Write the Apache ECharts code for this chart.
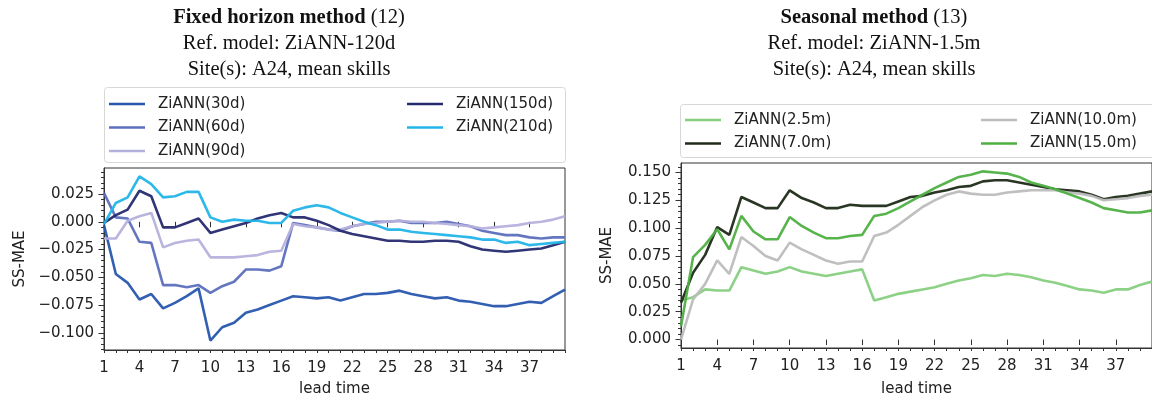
<!DOCTYPE html>
<html>
<head>
<meta charset="utf-8">
<script src="https://cdn.jsdelivr.net/npm/echarts@6/dist/echarts.min.js"></script>
<style>
  html, body { margin: 0; padding: 0; background: #fff; }
  #chart { width: 1152px; height: 401px; }
</style>
</head>
<body>
<div id="chart"></div>
<script>
// Lead times (x categories) shared by both panels
const leadTimes = ['1','2','3','4','5','6','7','8','9','10','11','12','13','14','15','16','17','18','19','20',
                   '21','22','23','24','25','26','27','28','29','30','31','32','33','34','35','36','37','38','39','40'];

// Labelled y ticks of each panel
const fixedYTicks = [-0.100, -0.075, -0.050, -0.025, 0.000, 0.025];
const seasonalYTicks = [0.000, 0.025, 0.050, 0.075, 0.100, 0.125, 0.150];

// Fixed horizon method: skill score (SS-MAE) per lead time
const fixedNames = ['ZiANN(30d)', 'ZiANN(60d)', 'ZiANN(90d)', 'ZiANN(150d)', 'ZiANN(210d)'];
const ss30d  = [-0.003,-0.047,-0.055,-0.070,-0.065,-0.078,-0.073,-0.067,-0.060,-0.107,-0.095,-0.091,-0.082,-0.079,-0.075,-0.071,-0.067,-0.068,-0.069,-0.068,
                -0.071,-0.068,-0.065,-0.065,-0.064,-0.062,-0.065,-0.067,-0.069,-0.068,-0.071,-0.072,-0.074,-0.076,-0.076,-0.074,-0.072,-0.073,-0.067,-0.061];
const ss60d  = [0.026,0.004,0.003,-0.018,-0.019,-0.057,-0.057,-0.059,-0.057,-0.064,-0.058,-0.054,-0.043,-0.043,-0.044,-0.040,-0.001,-0.003,-0.005,-0.007,
                -0.008,-0.004,-0.002,0.000,0.000,0.001,-0.001,-0.001,-0.001,0.000,-0.002,-0.004,-0.008,-0.010,-0.012,-0.012,-0.014,-0.015,-0.014,-0.014];
const ss90d  = [-0.015,-0.015,0.001,0.005,0.008,-0.023,-0.019,-0.017,-0.016,-0.032,-0.032,-0.032,-0.031,-0.030,-0.027,-0.026,-0.002,-0.004,-0.005,-0.007,
                -0.007,-0.004,-0.002,-0.001,0.000,0.001,0.000,0.000,-0.001,-0.002,-0.003,-0.004,-0.006,-0.005,-0.004,-0.003,-0.001,0.000,0.002,0.005];
const ss150d = [-0.001,0.006,0.011,0.028,0.023,-0.005,-0.005,-0.001,0.003,-0.010,-0.007,-0.004,-0.001,0.003,0.006,0.008,0.004,0.004,0.001,-0.003,
                -0.008,-0.011,-0.013,-0.015,-0.017,-0.017,-0.018,-0.018,-0.017,-0.017,-0.018,-0.022,-0.025,-0.026,-0.027,-0.026,-0.025,-0.024,-0.021,-0.018];
const ss210d = [-0.002,0.017,0.022,0.041,0.034,0.022,0.023,0.027,0.027,0.004,0.000,0.002,0.001,0.001,-0.001,-0.001,0.010,0.013,0.015,0.013,
                0.008,0.004,0.000,-0.003,-0.007,-0.007,-0.009,-0.010,-0.011,-0.012,-0.013,-0.014,-0.016,-0.016,-0.019,-0.018,-0.021,-0.020,-0.019,-0.018];

// Seasonal method: skill score (SS-MAE) per lead time
const seasonalNames = ['ZiANN(2.5m)', 'ZiANN(7.0m)', 'ZiANN(10.0m)', 'ZiANN(15.0m)'];
const ss2_5m  = [0.035,0.038,0.045,0.044,0.044,0.065,0.062,0.059,0.061,0.065,0.061,0.059,0.057,0.059,0.061,0.063,0.035,0.038,0.041,0.043,
                 0.045,0.047,0.050,0.053,0.055,0.058,0.057,0.059,0.058,0.056,0.053,0.051,0.048,0.045,0.044,0.042,0.045,0.045,0.049,0.052];
const ss7_0m  = [0.033,0.060,0.076,0.101,0.094,0.128,0.123,0.118,0.118,0.134,0.127,0.123,0.118,0.118,0.121,0.120,0.120,0.120,0.124,0.128,
                 0.129,0.132,0.134,0.137,0.138,0.142,0.143,0.143,0.141,0.139,0.137,0.135,0.134,0.133,0.130,0.126,0.128,0.129,0.131,0.133];
const ss10_0m = [0.000,0.036,0.050,0.071,0.059,0.092,0.084,0.075,0.071,0.087,0.081,0.076,0.071,0.068,0.070,0.070,0.093,0.096,0.103,0.111,
                 0.119,0.125,0.130,0.133,0.131,0.130,0.130,0.132,0.133,0.134,0.134,0.134,0.132,0.131,0.129,0.125,0.126,0.127,0.129,0.130];
const ss15_0m = [0.012,0.074,0.085,0.099,0.081,0.111,0.097,0.090,0.090,0.110,0.102,0.096,0.091,0.091,0.093,0.094,0.111,0.113,0.118,0.124,
                 0.130,0.136,0.141,0.146,0.148,0.151,0.150,0.149,0.146,0.141,0.138,0.135,0.131,0.127,0.123,0.118,0.116,0.114,0.114,0.116];

const fixedSeries = [ss30d, ss60d, ss90d, ss150d, ss210d];
const seasonalSeries = [ss2_5m, ss7_0m, ss10_0m, ss15_0m];

// Styling
const fixedColors = ['#2856ae', '#5d6fbe', '#b5b1dd', '#262a6e', '#22b4e8'];
const seasonalColors = ['#86cf80', '#1f2b18', '#bcbcbc', '#4eaf42'];
const SANS = 'DejaVu Sans';
const SERIF = 'Liberation Serif';
const INK = '#222';
const SPINE = '#333';

function fmtTick(v) {
  if (Math.abs(v) < 1e-9) return '0.000';
  return v.toFixed(3).replace('-', '\u2212');
}

// Minor tick positions every 0.005 inside [min, max], skipping the labelled ones
function minorTicks(min, max, majors) {
  const out = [];
  for (let k = Math.ceil(min / 0.005 - 1e-9); k * 0.005 <= max + 1e-9; k++) {
    const v = Math.round(k * 5) / 1000;
    if (!majors.some(m => Math.abs(m - v) < 1e-9)) out.push(v);
  }
  return out;
}

const majorX = (i) => i % 3 === 0 && i < 39;

function xAxes(g, nameGap) {
  return [
    {
      type: 'category', gridIndex: g, data: leadTimes, boundaryGap: false,
      axisLine: { show: true, onZero: false, lineStyle: { color: SPINE, width: 1 } },
      axisTick: { show: true, interval: 0, length: 3, lineStyle: { color: SPINE } },
      axisLabel: { interval: majorX, color: INK, fontSize: 15, fontFamily: SANS, margin: 11 },
      splitLine: { show: false },
      name: 'lead time', nameLocation: 'middle', nameGap: nameGap,
      nameTextStyle: { color: INK, fontSize: 15, fontFamily: SANS }
    },
    {
      type: 'category', gridIndex: g, data: leadTimes, boundaryGap: false, position: 'bottom',
      axisLine: { show: false },
      axisTick: { show: true, interval: majorX, length: 5.5, lineStyle: { color: SPINE } },
      axisLabel: { show: false },
      splitLine: { show: false }
    }
  ];
}

function yAxes(g, min, max, ticks, nameGap) {
  return [
    {
      type: 'value', gridIndex: g, min: min, max: max,
      axisLine: { show: true, onZero: false, lineStyle: { color: SPINE, width: 1 } },
      axisTick: { show: true, length: 5.5, customValues: ticks, lineStyle: { color: SPINE } },
      splitLine: { show: false },
      axisLabel: { customValues: ticks, formatter: fmtTick,
                   color: INK, fontSize: 15, fontFamily: SANS, margin: 10 },
      name: 'SS-MAE', nameLocation: 'middle', nameGap: nameGap,
      nameTextStyle: { color: INK, fontSize: 15, fontFamily: SANS }
    },
    {
      type: 'value', gridIndex: g, min: min, max: max, position: 'left',
      axisLine: { show: false },
      axisTick: { show: true, length: 3, customValues: minorTicks(min, max, ticks), lineStyle: { color: SPINE } },
      splitLine: { show: false },
      axisLabel: { show: false }
    }
  ];
}

function lineSeries(name, data, color, xi, yi) {
  return {
    type: 'line', name: name, data: data, xAxisIndex: xi, yAxisIndex: yi,
    showSymbol: false, symbol: 'none', smooth: false, animation: false,
    lineStyle: { color: color, width: 2.6, opacity: 0.95 },
    itemStyle: { color: color }
  };
}

function legendBlock(names, left, top) {
  return {
    orient: 'vertical', left: left, top: top, padding: 0, selectedMode: false,
    icon: 'rect', itemWidth: 36, itemHeight: 2.6, itemGap: 8.5,
    formatter: '{t|{name}}',
    textStyle: { color: INK, fontSize: 15, fontFamily: SANS,
                 rich: { t: { color: INK, fontSize: 15, fontFamily: SANS, padding: [0, 0, 0, 8] } } },
    data: names
  };
}

function titleLine(text, x, top, rich) {
  return {
    text: text, left: x, top: top, textAlign: 'center', padding: 0,
    textStyle: { fontFamily: SERIF, fontSize: 20.5, fontWeight: 'normal', color: '#111',
                 rich: rich || {} }
  };
}

const boldRich = { b: { fontFamily: SERIF, fontSize: 20.5, fontWeight: 'bold', color: '#111' } };

const series = [];
fixedNames.forEach((n, k) => series.push(lineSeries(n, fixedSeries[k], fixedColors[k], 0, 0)));
seasonalNames.forEach((n, k) => series.push(lineSeries(n, seasonalSeries[k], seasonalColors[k], 2, 2)));

const option = {
  animation: false,
  backgroundColor: '#fff',
  title: [
    titleLine('{b|Fixed horizon method} (12)', 289, 7, boldRich),
    titleLine('Ref. model: ZiANN-120d', 289, 33, null),
    titleLine('Site(s): A24, mean skills', 289, 59, null),
    titleLine('{b|Seasonal method} (13)', 874, 7, boldRich),
    titleLine('Ref. model: ZiANN-1.5m', 874, 33, null),
    titleLine('Site(s): A24, mean skills', 874, 59, null)
  ],
  graphic: [
    { type: 'rect', z: 0, shape: { x: 104.5, y: 87.5, width: 461, height: 75, r: 3 },
      style: { fill: '#fff', stroke: '#d8d8d8', lineWidth: 1 } },
    { type: 'rect', z: 0, shape: { x: 680.5, y: 104.5, width: 480, height: 53, r: 3 },
      style: { fill: '#fff', stroke: '#d8d8d8', lineWidth: 1 } }
  ],
  legend: [
    legendBlock(fixedNames.slice(0, 3), 109, 96.5),
    legendBlock(fixedNames.slice(3), 407, 96.5),
    legendBlock(seasonalNames.slice(0, 2), 685, 112.5),
    legendBlock(seasonalNames.slice(2), 981, 112.5)
  ],
  grid: [
    { left: 104, top: 168, width: 461, height: 182, show: true, borderColor: SPINE, borderWidth: 1, backgroundColor: 'transparent', containLabel: false },
    { left: 681, top: 163, width: 472, height: 185, show: true, borderColor: SPINE, borderWidth: 1, backgroundColor: 'transparent', containLabel: false }
  ],
  xAxis: [].concat(xAxes(0, 32), xAxes(1, 34)),
  yAxis: [].concat(
    yAxes(0, -0.1155, 0.0485, fixedYTicks, 76),
    yAxes(1, -0.0076, 0.1585, seasonalYTicks, 66)
  ),
  series: series
};

const chart = echarts.init(document.getElementById('chart'), null, { renderer: 'canvas' });
chart.setOption(option);
</script>
</body>
</html>
